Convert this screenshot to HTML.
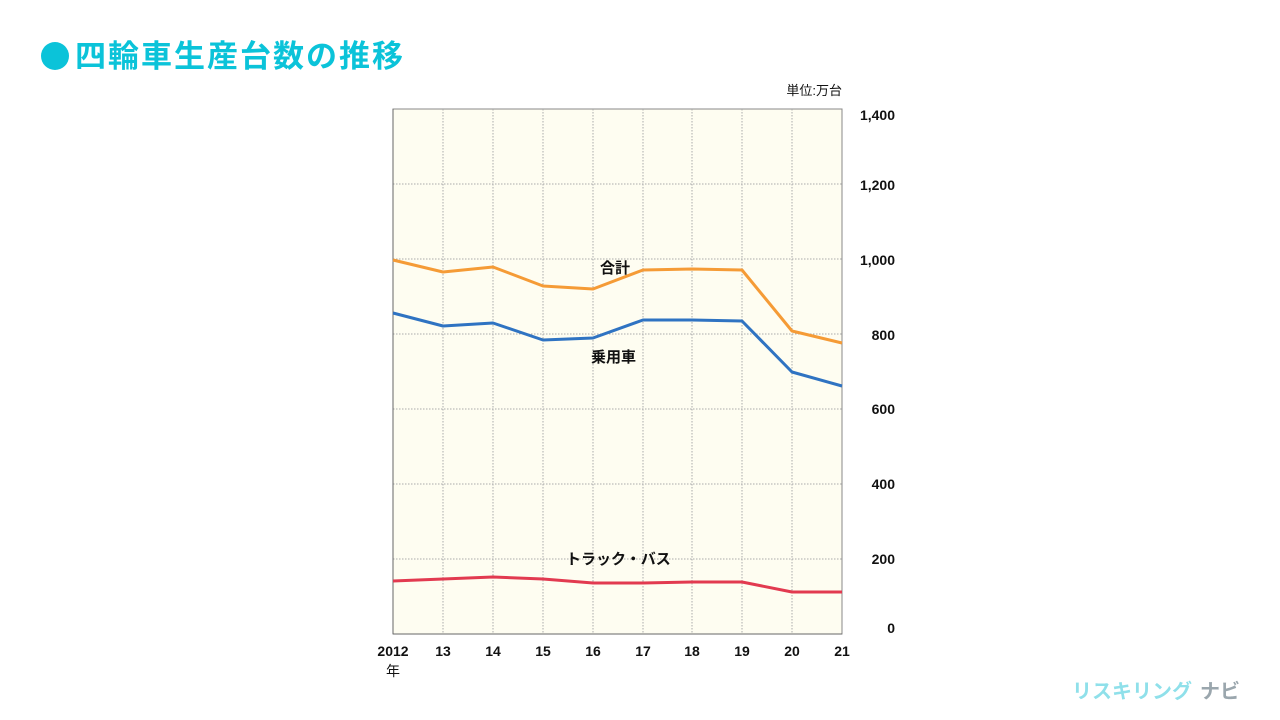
<!DOCTYPE html>
<html><head><meta charset="utf-8"><style>
body{margin:0;width:1280px;height:720px;background:#fff;overflow:hidden;font-family:"Liberation Sans","Noto Sans CJK JP",sans-serif;}
</style></head><body>
<svg width="1280" height="720" xmlns="http://www.w3.org/2000/svg" style="position:absolute;left:0;top:0">
<circle cx="55" cy="56" r="14" fill="#0bc3d9"/>
<text x="75" y="67" font-family="Noto Sans CJK JP, sans-serif" font-weight="bold" font-size="31" letter-spacing="2" fill="#0bc3d9">四輪車生産台数の推移</text>
<rect x="393" y="109" width="449" height="525" fill="#fefdf1" stroke="#888" stroke-width="1"/>
<g stroke="#aaa" stroke-width="1" stroke-dasharray="1.5,1.5">
<line x1="393" y1="559" x2="842" y2="559"/><line x1="393" y1="484" x2="842" y2="484"/>
<line x1="393" y1="409" x2="842" y2="409"/><line x1="393" y1="334" x2="842" y2="334"/>
<line x1="393" y1="259" x2="842" y2="259"/><line x1="393" y1="184" x2="842" y2="184"/>
<line x1="443" y1="109" x2="443" y2="634"/><line x1="493" y1="109" x2="493" y2="634"/>
<line x1="543" y1="109" x2="543" y2="634"/><line x1="593" y1="109" x2="593" y2="634"/>
<line x1="643" y1="109" x2="643" y2="634"/><line x1="692" y1="109" x2="692" y2="634"/>
<line x1="742" y1="109" x2="742" y2="634"/><line x1="792" y1="109" x2="792" y2="634"/>
</g>
<line x1="393" y1="109" x2="393" y2="634" stroke="#666"/>
<line x1="393" y1="634" x2="842" y2="634" stroke="#666"/>
<g fill="none" stroke-width="3" stroke-linejoin="round">
<polyline stroke="#f59b36" points="393,260 443,272 493,267 543,286 593,289 643,270 692,269 742,270 792,331 842,343"/>
<polyline stroke="#2f73c2" points="393,313 443,326 493,323 543,340 593,338 643,320 692,320 742,321 792,372 842,386"/>
<polyline stroke="#e23a50" points="393,581 443,579 493,577 543,579 593,583 643,583 692,582 742,582 792,592 842,592"/>
</g>
<g font-weight="bold" font-size="15" fill="#111">
<text x="600" y="273">合計</text>
<text x="591" y="362">乗用車</text>
<text x="566" y="564">トラック・バス</text>
</g>
<g font-weight="bold" font-size="14" fill="#111" text-anchor="end">
<text x="895" y="120">1,400</text><text x="895" y="190">1,200</text>
<text x="895" y="265">1,000</text><text x="895" y="340">800</text>
<text x="895" y="414">600</text><text x="895" y="489">400</text>
<text x="895" y="564">200</text><text x="895" y="633">0</text>
<text x="842" y="95" font-size="13" font-weight="normal">単位:万台</text>
</g>
<g font-weight="bold" font-size="14" fill="#111" text-anchor="middle">
<text x="393" y="656">2012</text><text x="393" y="676" font-weight="normal">年</text>
<text x="443" y="656">13</text><text x="493" y="656">14</text><text x="543" y="656">15</text>
<text x="593" y="656">16</text><text x="643" y="656">17</text><text x="692" y="656">18</text>
<text x="742" y="656">19</text><text x="792" y="656">20</text><text x="842" y="656">21</text>
</g>
<text x="1072" y="698" font-family="Noto Sans CJK JP, sans-serif" font-weight="bold" font-size="20" fill="#8fe0ea">リスキリング</text>
<text x="1200" y="698" font-family="Noto Sans CJK JP, sans-serif" font-weight="bold" font-size="20" fill="#9aa6ad">ナビ</text>
</svg>
</body></html>
